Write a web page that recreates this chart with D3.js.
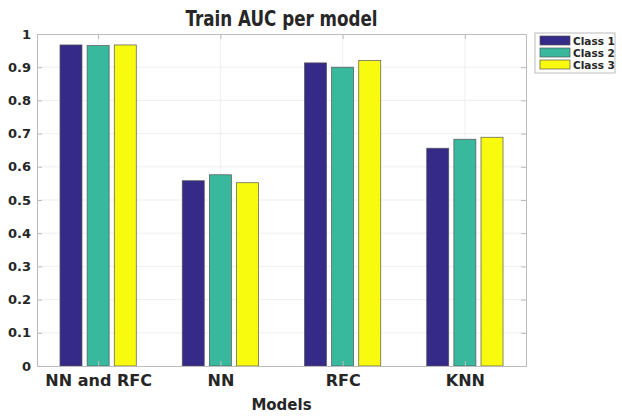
<!DOCTYPE html>
<html>
<head>
<meta charset="utf-8">
<script src="https://cdn.jsdelivr.net/npm/d3@7/dist/d3.min.js"></script>
<style>
  body { margin: 0; background: #fff; }
  text { font-family: 'DejaVu Sans', Verdana, sans-serif; fill: #262626; }
</style>
</head>
<body>
<div id="chart"></div>
<script>
// data
let models = ['NN and RFC', 'NN', 'RFC', 'KNN']
let classes = ['Class 1', 'Class 2', 'Class 3']
let class1 = [0.967, 0.558, 0.913, 0.656]
let class2 = [0.965, 0.576, 0.900, 0.683]
let class3 = [0.967, 0.552, 0.920, 0.689]
let yTicks = [0, 0.1, 0.2, 0.3, 0.4, 0.5, 0.6, 0.7, 0.8, 0.9, 1]
let colors = ['#352a87', '#38b99e', '#f9fb0e']

let svgWidth = 622
let svgHeight = 417
let margin = { top: 34, right: 96, bottom: 51, left: 37 }
let chartWidth = svgWidth - margin.left - margin.right
let chartHeight = svgHeight - margin.top - margin.bottom

let svg = d3.select('#chart')
    .append('svg')
    .attr('width', svgWidth)
    .attr('height', svgHeight)

let chartGroup = svg.append('g')
    .attr('transform', `translate(${margin.left}, ${margin.top})`)

let series = [class1, class2, class3]

// x is a linear scale over group index (0.5 .. 4.5), matlab style
let x = d3.scaleLinear().domain([0.5, models.length + 0.5]).range([0, chartWidth])
let y = d3.scaleLinear().domain([0, 1]).range([chartHeight, 0])

let step = x(2) - x(1)
let barW = step * 0.18
let offset = step * 0.222

// grid
chartGroup.append('g')
    .selectAll('line')
    .data(yTicks.slice(1, -1))
    .enter()
    .append('line')
    .attr('x1', 0).attr('x2', chartWidth)
    .attr('y1', d => y(d)).attr('y2', d => y(d))
    .attr('stroke', '#efefef')

chartGroup.append('g')
    .selectAll('line')
    .data(models)
    .enter()
    .append('line')
    .attr('x1', (d, i) => x(i + 1)).attr('x2', (d, i) => x(i + 1))
    .attr('y1', 0).attr('y2', chartHeight)
    .attr('stroke', '#efefef')

// bars
series.forEach((vals, s) => {
    chartGroup.append('g')
        .selectAll('rect')
        .data(vals)
        .enter()
        .append('rect')
        .attr('x', (d, i) => x(i + 1) + (s - 1) * offset - barW / 2)
        .attr('y', d => y(d))
        .attr('width', barW)
        .attr('height', d => chartHeight - y(d))
        .attr('fill', colors[s])
        .attr('stroke', '#555')
        .attr('stroke-width', 0.7)
})

// axes box
let axisColor = '#bcbcbc'
let leftAxis = d3.axisLeft(y).tickValues(yTicks).tickSize(-5).tickPadding(6).tickFormat(d => d3.format('')(+d.toFixed(1)))
let rightAxis = d3.axisRight(y).tickValues(yTicks).tickSize(-5).tickFormat('')
let bottomAxis = d3.axisBottom(x).tickValues(models.map((d, i) => i + 1)).tickSize(-5).tickPadding(9).tickFormat((d, i) => models[i])
let topAxis = d3.axisTop(x).tickValues(models.map((d, i) => i + 1)).tickSize(-5).tickFormat('')

let yAxisG = chartGroup.append('g').call(leftAxis)
chartGroup.append('g').attr('transform', `translate(${chartWidth}, 0)`).call(rightAxis)
let xAxisG = chartGroup.append('g').attr('transform', `translate(0, ${chartHeight})`).call(bottomAxis)
chartGroup.append('g').call(topAxis)

chartGroup.selectAll('.domain').attr('stroke', axisColor)
chartGroup.selectAll('.tick line').attr('stroke', axisColor)

yAxisG.selectAll('text')
    .style('font-size', '13px')
    .style('font-weight', 'bold')
    .attr('fill', '#262626')
xAxisG.selectAll('text')
    .style('font-size', '16px')
    .style('font-weight', 'bold')
    .attr('fill', '#262626')

// title + label (matlab title font is narrower, squeeze it)
svg.append('text')
    .attr('x', margin.left + chartWidth / 2)
    .attr('y', 26)
    .attr('text-anchor', 'middle')
    .attr('textLength', 192)
    .attr('lengthAdjust', 'spacingAndGlyphs')
    .style('font-size', '21px')
    .style('font-weight', 'bold')
    .attr('fill', '#111')
    .text('Train AUC per model')

svg.append('text')
    .attr('x', margin.left + chartWidth / 2)
    .attr('y', 410)
    .attr('text-anchor', 'middle')
    .style('font-size', '15px')
    .style('font-weight', 'bold')
    .text('Models')

// legend
let legend = svg.append('g').attr('transform', 'translate(535, 33)')
legend.append('rect')
    .attr('width', 80).attr('height', 40)
    .attr('fill', '#fff').attr('stroke', '#bcbcbc')

let items = legend.selectAll('g.item')
    .data(classes)
    .enter()
    .append('g')
    .attr('transform', (d, i) => `translate(5, ${3 + i * 12})`)

items.append('rect')
    .attr('width', 30).attr('height', 9)
    .attr('fill', (d, i) => colors[i])
    .attr('stroke', '#555').attr('stroke-width', 0.7)

items.append('text')
    .attr('x', 33).attr('y', 8.5)
    .style('font-size', '10.5px')
    .style('font-weight', 'bold')
    .text(d => d)
</script>
</body>
</html>
